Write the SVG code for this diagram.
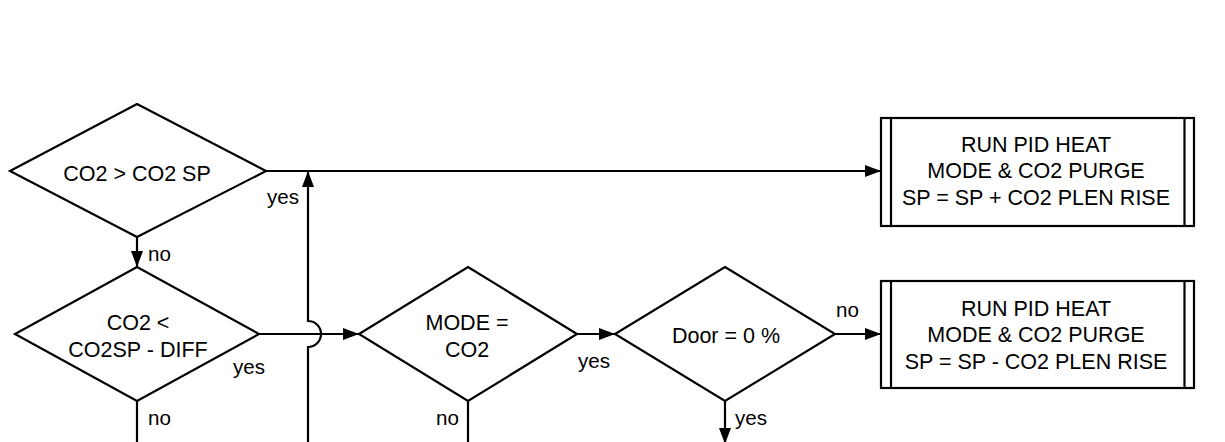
<svg xmlns="http://www.w3.org/2000/svg" width="1225" height="442" viewBox="0 0 1225 442">
<style>
.shape{fill:#fff;stroke:#000;stroke-width:2.2}
.conn{fill:none;stroke:#000;stroke-width:2.2}
.t{font-family:"Liberation Sans",Arial,sans-serif;font-size:21.5px;fill:#000;text-anchor:middle}
.lbl{font-family:"Liberation Sans",Arial,sans-serif;font-size:20.6px;fill:#000}
</style>
<defs>
<marker id="arr" markerUnits="userSpaceOnUse" markerWidth="16" markerHeight="12" refX="16" refY="6" orient="auto">
<path d="M0,0 L16,6 L0,12 z" fill="#000"/>
</marker>
</defs>
<rect width="1225" height="442" fill="#fff"/>
<g id="connectors">
<path class="conn" d="M266,171 H881" marker-end="url(#arr)"/>
<path class="conn" d="M137,237 V267" marker-end="url(#arr)"/>
<path class="conn" d="M259,334 H359" marker-end="url(#arr)"/>
<path class="conn" d="M137,401 V443 H308 V347 A13,13 0 0 0 308,321 V171" marker-end="url(#arr)"/>
<path class="conn" d="M577,334 H615" marker-end="url(#arr)"/>
<path class="conn" d="M835,334 H881" marker-end="url(#arr)"/>
<path class="conn" d="M468,401 V443 H1230"/>
<path class="conn" d="M725,401 V444" marker-end="url(#arr)"/>
<text class="lbl" x="267" y="203.5">yes</text>
<text class="lbl" x="148" y="261">no</text>
<text class="lbl" x="233" y="374">yes</text>
<text class="lbl" x="148" y="425">no</text>
<text class="lbl" x="578" y="368">yes</text>
<text class="lbl" x="436" y="425">no</text>
<text class="lbl" x="836" y="317">no</text>
<text class="lbl" x="735" y="425">yes</text>
</g>
<g id="d1">
<polygon class="shape" points="137,104 266,171 137,237 10,171"/>
<text class="t" x="137" y="180.7">CO2 &gt; CO2 SP</text>
</g>
<g id="d2">
<polygon class="shape" points="137,267 259,334 137,401 15,334"/>
<text class="t" x="138" y="330">CO2 &lt;</text>
<text class="t" x="138" y="356.7">CO2SP - DIFF</text>
</g>
<g id="d3">
<polygon class="shape" points="468,267 577,334 468,401 359,334"/>
<text class="t" x="467" y="330">MODE =</text>
<text class="t" x="467" y="356.7">CO2</text>
</g>
<g id="d4">
<polygon class="shape" points="725,267 835,334 725,401 615,334"/>
<text class="t" x="726" y="343.3">Door = 0 %</text>
</g>
<g id="box1">
<rect class="shape" x="881" y="118" width="313" height="108"/>
<line class="conn" x1="891" y1="118" x2="891" y2="226"/>
<line class="conn" x1="1184.5" y1="118" x2="1184.5" y2="226"/>
<text class="t" x="1036" y="151.7">RUN PID HEAT</text>
<text class="t" x="1036" y="178.3">MODE &amp; CO2 PURGE</text>
<text class="t" x="1036" y="205">SP = SP + CO2 PLEN RISE</text>
</g>
<g id="box2">
<rect class="shape" x="881" y="281" width="313" height="107"/>
<line class="conn" x1="891" y1="281" x2="891" y2="388"/>
<line class="conn" x1="1184.5" y1="281" x2="1184.5" y2="388"/>
<text class="t" x="1036" y="315.7">RUN PID HEAT</text>
<text class="t" x="1036" y="342.3">MODE &amp; CO2 PURGE</text>
<text class="t" x="1036" y="369">SP = SP - CO2 PLEN RISE</text>
</g>
</svg>
